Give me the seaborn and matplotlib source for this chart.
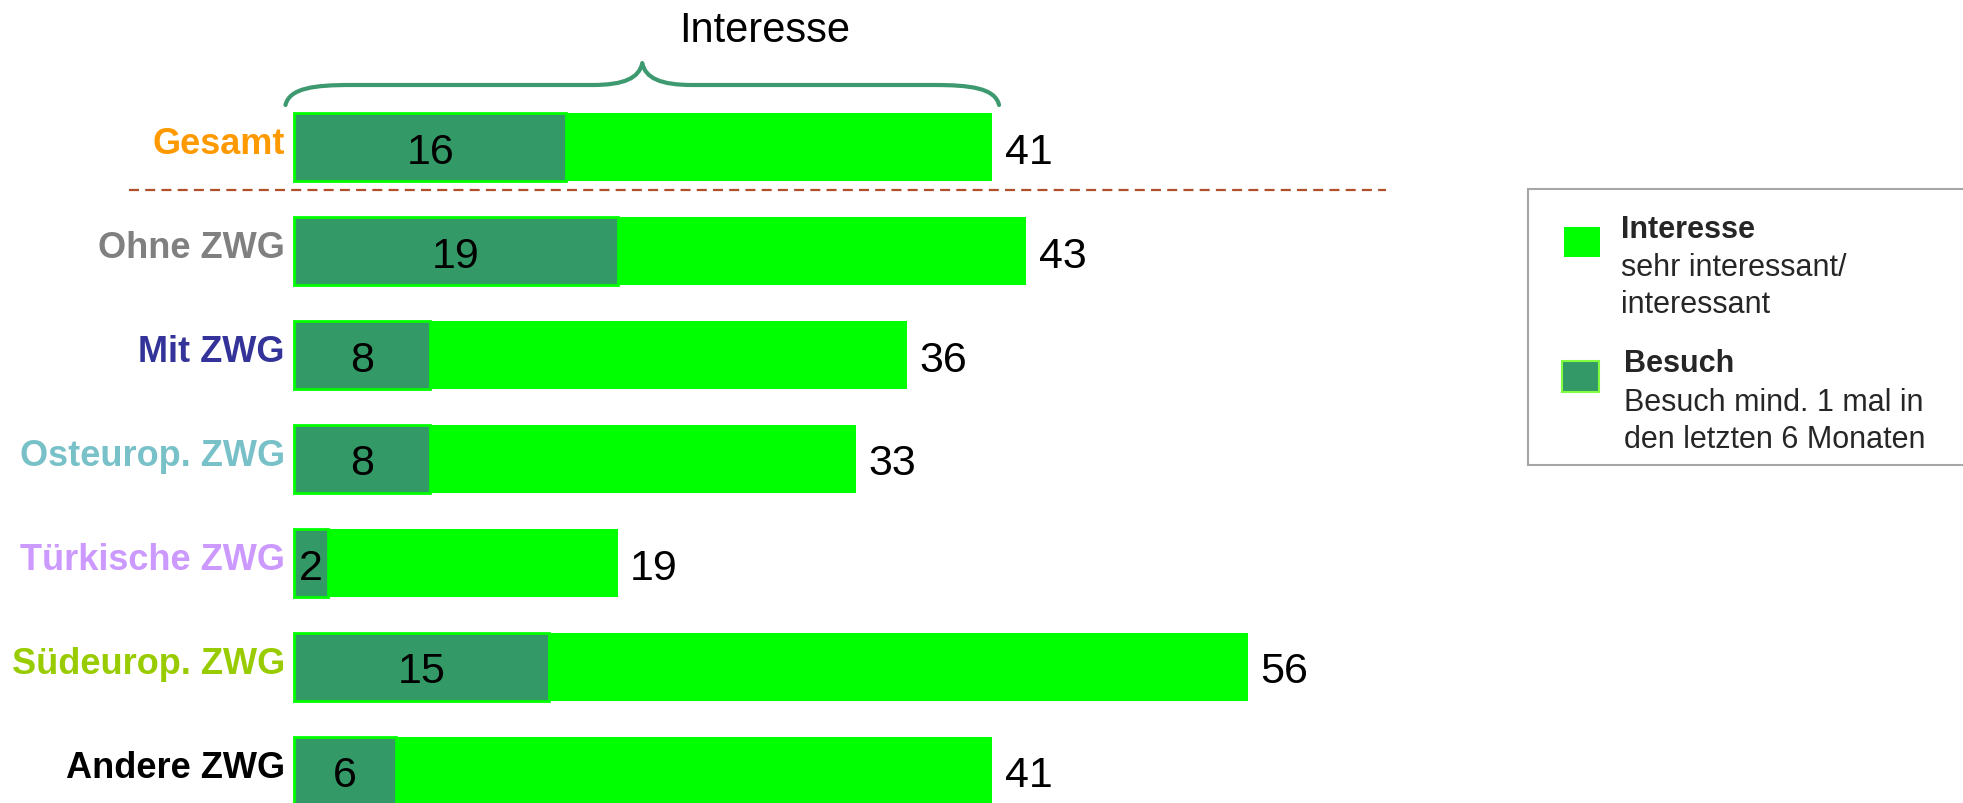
import matplotlib
matplotlib.use("Agg")
import matplotlib.pyplot as plt
import seaborn as sns
import pandas as pd
from matplotlib.path import Path
from matplotlib.patches import PathPatch, Rectangle

# ---- data ----
categories = ["Gesamt", "Ohne ZWG", "Mit ZWG", "Osteurop. ZWG",
              "Türkische ZWG", "Südeurop. ZWG", "Andere ZWG"]
interesse = [41, 43, 36, 33, 19, 56, 41]
besuch = [16, 19, 8, 8, 2, 15, 6]
label_colors = ["#ff9900", "#808080", "#333399", "#78c1c8",
                "#cc99ff", "#99cc00", "#000000"]

legend_title_1 = "Interesse"
legend_lines_1 = ["sehr interessant/", "interessant"]
legend_title_2 = "Besuch"
legend_lines_2 = ["Besuch mind. 1 mal in", "den letzten 6 Monaten"]
brace_title = "Interesse"

# ---- style ----
W, H = 1963, 804
sns.set_style("white")
plt.rcParams["font.family"] = ["Liberation Sans", "DejaVu Sans"]

GREEN = "#00ff00"
DARK = "#339966"

fig = plt.figure(figsize=(W / 100, H / 100), dpi=100)
ax = fig.add_axes([0, 0, 1, 1])

df = pd.DataFrame({"cat": categories, "interesse": interesse, "besuch": besuch})

BAR_W = 0.654
sns.barplot(data=df, x="interesse", y="cat", orient="h", color=GREEN,
            saturation=1, width=BAR_W, linewidth=0, ax=ax)
sns.barplot(data=df, x="besuch", y="cat", orient="h", color=DARK,
            saturation=1, width=BAR_W, linewidth=2, edgecolor=GREEN, ax=ax)

# pixel geometry -> data
X0, PXU = 294, 17.03      # px of x=0, px per unit
Y0, PYU = 148, 104        # px of first band centre, px per band
ax.set_xlim(-X0 / PXU, (W - X0) / PXU)
ax.set_ylim((H - Y0) / PYU, -Y0 / PYU)
ax.axis("off")

# category labels
for i, (c, col) in enumerate(zip(categories, label_colors)):
    ax.text(-0.53, i + 6 / PYU, c, ha="right", va="baseline",
            fontsize=26, fontweight="bold", color=col, clip_on=False)

# value labels
for i, (v_int, v_bes) in enumerate(zip(interesse, besuch)):
    ax.text(v_bes / 2, i + 15.5 / PYU, str(v_bes), ha="center", va="baseline",
            fontsize=31, color="black")
    ax.annotate(str(v_int), xy=(v_int, i + 15.5 / PYU), xytext=(9, 0),
                textcoords="offset points", ha="left", va="baseline",
                fontsize=31, color="black")

# dashed separator
ax.plot([-9.7, 64.1], [0.413, 0.413], color="#b0502a", lw=1.6,
        dashes=(4.5, 2.8), clip_on=False)

# brace above the Gesamt bar
def px2d(px, py):
    return ((px - X0) / PXU, (py - Y0) / PYU)

xl = -0.5
xr = interesse[0] + 0.4
xm = (xl + xr) / 2
pl = X0 + xl * PXU
pr = X0 + xr * PXU
pm = X0 + xm * PXU
yend, yflat, ytip = 106, 86, 64
pts_px = [
    (pl, yend), (pl + 4, 89), (pl + 29, yflat), (pl + 65, yflat),
    (pm - 50, yflat),
    (pm - 50, yflat), (pm - 18, yflat), (pm - 3, 79), (pm, ytip),
    (pm + 3, 79), (pm + 18, yflat), (pm + 50, yflat),
    (pr - 65, yflat),
    (pr - 65, yflat), (pr - 29, yflat), (pr - 4, 89), (pr, yend),
]
codes = [Path.MOVETO, Path.CURVE4, Path.CURVE4, Path.CURVE4,
         Path.LINETO,
         Path.LINETO, Path.CURVE4, Path.CURVE4, Path.CURVE4,
         Path.CURVE4, Path.CURVE4, Path.CURVE4,
         Path.LINETO,
         Path.LINETO, Path.CURVE4, Path.CURVE4, Path.CURVE4]
brace = Path([px2d(*p) for p in pts_px], codes)
ax.add_patch(PathPatch(brace, facecolor="none", edgecolor="#3d9970",
                       lw=3.0, clip_on=False, capstyle="round", joinstyle="round"))
ax.text(*px2d(765, 42), brace_title, ha="center", va="baseline",
        fontsize=30, color="black")

# ---- legend box (figure pixel coords) ----
def fx(px):
    return px / W

def fy(py):
    return 1 - py / H

fig.patches.append(Rectangle((fx(1528), fy(466)), fx(1970) - fx(1528),
                             fy(190) - fy(466), transform=fig.transFigure,
                             facecolor="white", edgecolor="#a6a6a6", lw=1.5))
fig.patches.append(Rectangle((fx(1564), fy(258)), fx(1600) - fx(1564),
                             fy(228) - fy(258), transform=fig.transFigure,
                             facecolor=GREEN, edgecolor="none"))
fig.patches.append(Rectangle((fx(1562), fy(393)), fx(1599) - fx(1562),
                             fy(362) - fy(393), transform=fig.transFigure,
                             facecolor=DARK, edgecolor="#80ff40", lw=1.5))

LFS = 22
fig.text(fx(1621), fy(238), legend_title_1, fontsize=LFS, fontweight="bold",
         va="baseline", ha="left")
for k, line in enumerate(legend_lines_1):
    fig.text(fx(1621), fy(276 + 37 * k), line, fontsize=LFS,
             va="baseline", ha="left")
fig.text(fx(1624), fy(372), legend_title_2, fontsize=LFS, fontweight="bold",
         va="baseline", ha="left")
for k, line in enumerate(legend_lines_2):
    fig.text(fx(1624), fy(411 + 37 * k), line, fontsize=LFS,
             va="baseline", ha="left")

fig.savefig("out.png", dpi=100)
